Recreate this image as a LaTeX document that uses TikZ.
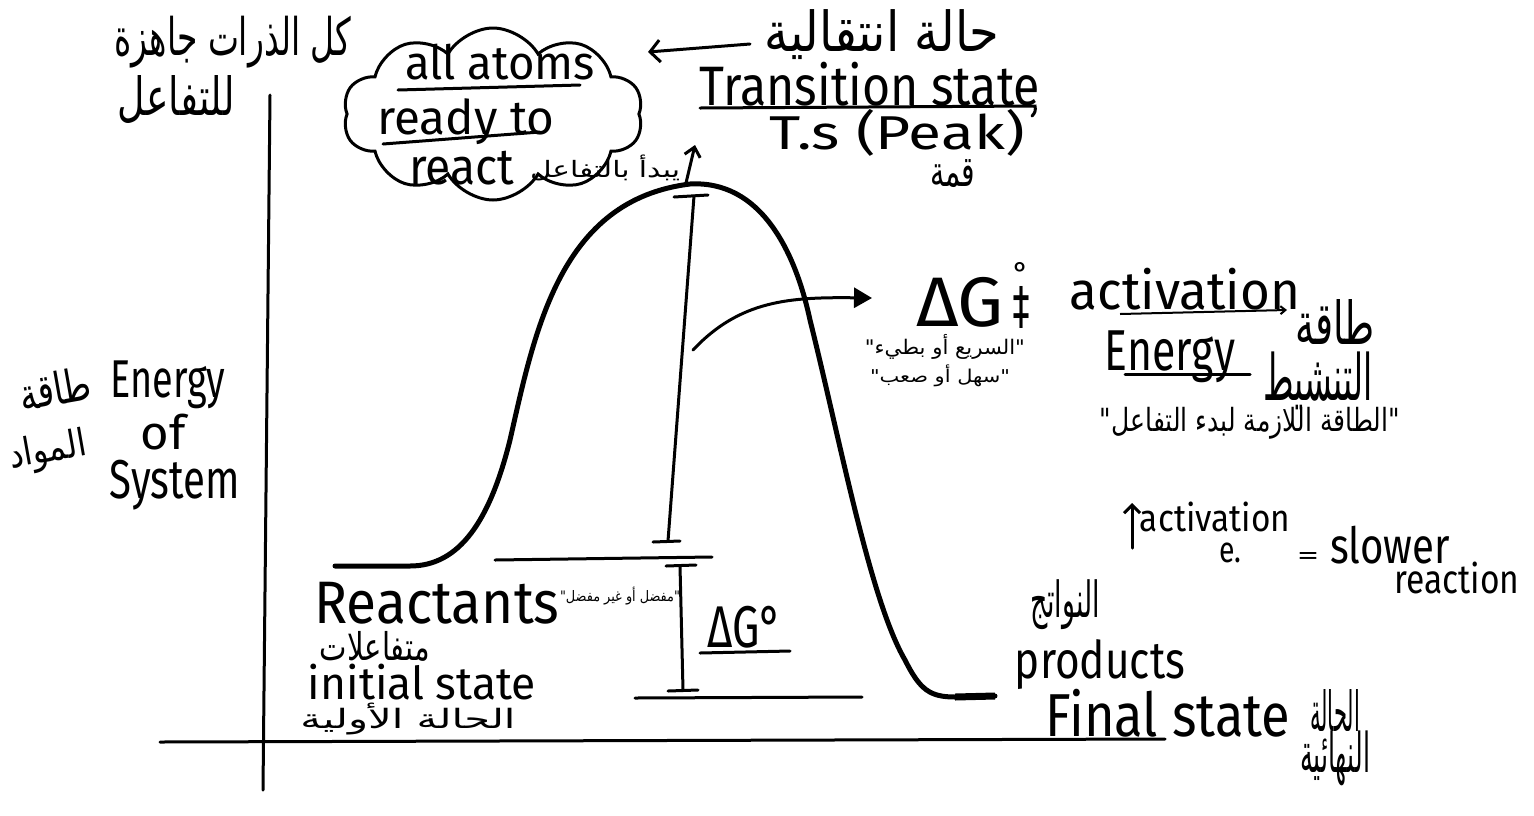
\documentclass[tikz,border=0pt]{standalone}
\usepackage{fontspec}
\setmainfont{Fira Sans}
\newfontfamily\ar[Script=Arabic]{DejaVu Sans}
\TeXXeTstate=1
\usetikzlibrary{shapes.symbols,arrows.meta}
\newcommand\tw[3]{\resizebox*{#1pt}{#2pt}{#3}}
\begin{document}
\begin{tikzpicture}[x=1pt,y=-1pt,
  ink/.style={line width=3pt, line cap=round, black},
  thick curve/.style={line width=5pt, line cap=round, line join=round, black},
  lbl/.style={inner sep=0pt, anchor=center}]
\useasboundingbox (0,0) rectangle (1534,815);
\fill[white] (0,0) rectangle (1534,815);

% axes
\coordinate (ytop) at (270,95);
\coordinate (ybot) at (263,790);
\coordinate (xl) at (160,742);
\coordinate (xr) at (1165,739);
\draw[ink] (ytop) -- (ybot);
\draw[ink] (xl) -- (xr);

% energy curve
\coordinate (c0) at (335,566);
\coordinate (c1) at (410,566);
\coordinate (peak) at (690,184);
\coordinate (c5) at (955,697);
\coordinate (c6) at (995,696);
\draw[thick curve] (c0) -- (c1) .. controls (460,566) and (490,520) .. (510,440)
  .. controls (535,330) and (560,200) .. (peak)
  .. controls (760,180) and (795,250) .. (810,320)
  .. controls (840,440) and (870,600) .. (905,660)
  .. controls (920,690) and (930,697) .. (c5) -- (c6);
\draw[line width=7pt] (c5) -- (c6);

% level lines
\coordinate (rl1) at (495,560); \coordinate (rl2) at (712,557);
\coordinate (pl1) at (635,698); \coordinate (pl2) at (862,697);
\draw[ink] (rl1) -- (rl2);
\draw[ink] (pl1) -- (pl2);

% Delta G double-dagger I-beam
\coordinate (a1) at (694,196); \coordinate (a2) at (668,541);
\coordinate (a1l) at (674,197); \coordinate (a1r) at (708,195);
\coordinate (a2l) at (653,542); \coordinate (a2r) at (680,541);
\draw[ink] (a1) -- (a2);
\draw[ink] (a1l) -- (a1r);
\draw[ink] (a2l) -- (a2r);

% Delta G zero I-beam
\coordinate (b1) at (680,566); \coordinate (b2) at (683,690);
\coordinate (b1l) at (666,566); \coordinate (b1r) at (696,565);
\coordinate (b2l) at (668,691); \coordinate (b2r) at (698,690);
\draw[ink] (b1) -- (b2);
\draw[ink] (b1l) -- (b1r);
\draw[ink] (b2l) -- (b2r);

% cloud
\node[cloud, draw, line width=3pt, cloud puffs=10, cloud puff arc=120,
      aspect=1.75, minimum width=300pt, minimum height=172pt] (cloud) at (493,114) {};

% texts
\node[lbl] (ar1) at (233,42) {\tw{237}{52}{\ar\beginR كل الذرات جاهزة\endR}};
\node[lbl] (ar2) at (176,100) {\tw{117}{48}{\ar\beginR للتفاعل\endR}};
\node[lbl] (allatoms) at (500,62) {\tw{190}{36}{all atoms}};
\node[lbl] (readyto) at (466,122) {\tw{177}{46}{ready to}};
\node[lbl] (react) at (462,168) {\tw{105}{34}{react}};
\node[lbl] (yabda) at (605,168) {\tw{150}{26}{\ar\beginR يبدأ بالتفاعل\endR}};
\node[lbl] (halah) at (882,35) {\tw{235}{50}{\ar\beginR حالة انتقالية\endR}};
\node[lbl] (ts) at (870,84) {\tw{340}{44}{Transition state}};
\node[lbl] (tsp) at (897,133) {\tw{255}{47}{T.s (Peak)}};
\node[lbl] (qima) at (953,174) {\tw{45}{28}{\ar\beginR قمة\endR}};
\node[lbl] (dgs) at (960,302) {\tw{88}{50}{ΔG}};
\node[lbl] (ddag) at (1021,307) {\tw{18}{42}{‡}};
\node[lbl, anchor=south] (deg) at (1021,284) {\fontsize{30}{30}\selectfont °};
\node[lbl] (fast) at (945,347) {\tw{160}{25}{\ar\beginR "السريع أو بطيء"\endR}};
\node[lbl] (easy) at (940,376) {\tw{140}{22}{\ar\beginR "سهل أو صعب"\endR}};
\node[lbl] (act) at (1185,289) {\tw{230}{42}{activation}};
\node[lbl] (energy2) at (1170,357) {\tw{130}{52}{Energy}};
\node[lbl] (taqa2) at (1335,322) {\tw{80}{45}{\ar\beginR طاقة\endR}};
\node[lbl] (tanshit) at (1318,381) {\tw{110}{58}{\ar\beginR التنشيط\endR}};
\node[lbl] (lazima) at (1250,423) {\tw{300}{32}{\ar\beginR "الطاقة اللازمة لبدء التفاعل"\endR}};
\node[lbl] (energy1) at (168,385) {\tw{115}{48}{Energy}};
\node[lbl] (of) at (163,432) {\tw{45}{36}{of}};
\node[lbl] (system) at (175,485) {\tw{130}{50}{System}};
\node[lbl, rotate=10] (taqa1) at (55,388) {\tw{72}{34}{\ar\beginR طاقة\endR}};
\node[lbl, rotate=10] (mawad) at (48,452) {\tw{78}{38}{\ar\beginR المواد\endR}};
\node[lbl] (reactants) at (437,603) {\tw{245}{42}{Reactants}};
\node[lbl] (mufaddal) at (620,596) {\tw{120}{18}{\ar\beginR "مفضل أو غير مفضل"\endR}};
\node[lbl] (mutafa) at (375,646) {\tw{110}{30}{\ar\beginR متفاعلات\endR}};
\node[lbl] (initial) at (422,682) {\tw{228}{36}{initial state}};
\node[lbl] (oulia) at (408,719) {\tw{215}{32}{\ar\beginR الحالة الأولية\endR}};
\node[lbl] (dg0) at (745,627) {\tw{75}{42}{ΔG°}};
\node[lbl] (nawatij) at (1065,605) {\tw{70}{50}{\ar\beginR النواتج\endR}};
\node[lbl] (products) at (1100,665) {\tw{170}{50}{products}};
\node[lbl] (final) at (1168,713) {\tw{245}{48}{Final state}};
\node[lbl] (haalah) at (1335,710) {\tw{50}{42}{\ar\beginR الحالة\endR}};
\node[lbl] (nihaia) at (1335,758) {\tw{70}{55}{\ar\beginR النهائية\endR}};
\node[lbl] (upact) at (1215,517) {\tw{150}{30}{activation}};
\node[lbl] (e) at (1230,553) {\tw{22}{20}{e.}};
\node[lbl] (eq) at (1308,558) {\tw{22}{12}{=}};
\node[lbl] (slower) at (1390,545) {\tw{120}{38}{slower}};
\node[lbl] (reaction) at (1457,578) {\tw{125}{32}{reaction}};

% underlines
\coordinate (u1a) at (398,90); \coordinate (u1b) at (580,85);
\coordinate (u2a) at (383,144); \coordinate (u2b) at (540,132);
\coordinate (u3a) at (700,108); \coordinate (u3b) at (1035,106); \coordinate (u3c) at (1032,116);
\coordinate (u4a) at (700,653); \coordinate (u4b) at (790,651);
\coordinate (u5a) at (1125,374); \coordinate (u5b) at (1250,374);
\draw[ink] (u1a) -- (u1b);
\draw[ink] (u2a) -- (u2b);
\draw[ink] (u3a) -- (u3b) to[bend left=30] (u3c);
\draw[ink] (u4a) -- (u4b);
\draw[ink] (u5a) -- (u5b);

% arrows
\coordinate (la1) at (750,44); \coordinate (la2) at (648,52);
\draw[ink, -{Straight Barb[length=10pt,width=22pt]}] (la1) -- (la2);
\coordinate (ua1) at (686,183); \coordinate (ua2) at (695,145);
\draw[ink, -{Straight Barb[length=9pt,width=16pt]}] (ua1) -- (ua2);
\coordinate (ca1) at (693,350); \coordinate (ca2) at (872,298);
\draw[ink, -{Triangle[length=18pt,width=20pt]}] (ca1) .. controls (740,300) and (790,297) .. (ca2);
\coordinate (aa1) at (1120,314); \coordinate (aa2) at (1287,310);
\draw[line width=2pt, -{Straight Barb[length=5pt,width=8pt]}] (aa1) -- (aa2);
\coordinate (upa1) at (1132,548); \coordinate (upa2) at (1132,503);
\draw[ink, -{Straight Barb[length=8pt,width=16pt]}] (upa1) -- (upa2);
\end{tikzpicture}
\end{document}
